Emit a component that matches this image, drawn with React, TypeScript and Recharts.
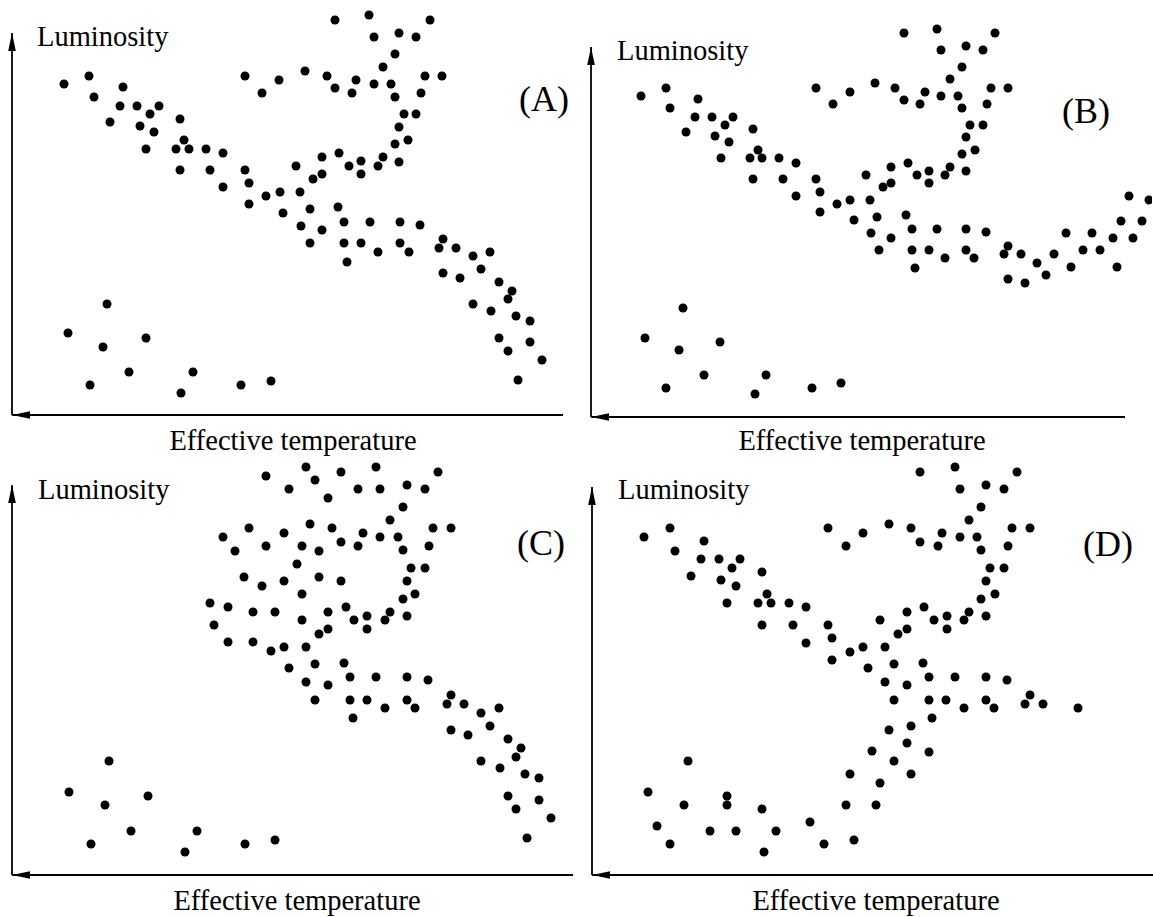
import React from 'react';
import { ScatterChart, Scatter, XAxis, YAxis, ReferenceLine } from 'recharts';

// Each point: [position along temperature axis, luminosity], in units measured from the axis corner.
const panelAPoints: [number, number][] = [
  [52, 331], [77, 339], [82, 318], [111, 328], [108, 309], [125, 309], [147, 309], [138, 301],
  [98, 293], [128, 289], [142, 283], [168, 296], [172, 275], [134, 266], [164, 266], [177, 266],
  [194, 266], [211, 262], [168, 245], [198, 245], [233, 245], [237, 232], [211, 228], [254, 219],
  [268, 223], [288, 223], [237, 211], [271, 202], [298, 206], [326, 208],
  [289, 189], [310, 185], [332, 193], [358, 193], [388, 193], [408, 190], [298, 172], [332, 172],
  [349, 172], [366, 163], [335, 153], [388, 172], [397, 163], [431, 176], [427, 167], [444, 167],
  [461, 159], [478, 163], [469, 146], [431, 142], [448, 137], [487, 133], [500, 124], [496, 116],
  [461, 111], [479, 104], [504, 99], [518, 94], [487, 77], [518, 73], [496, 64], [530, 55], [506, 35],
  [233, 339], [250, 322], [267, 335], [293, 344], [315, 339], [344, 335], [323, 327], [340, 322],
  [362, 331], [379, 331], [383, 318], [409, 322], [413, 339], [430, 339], [323, 395], [357, 400],
  [418, 395], [362, 378], [387, 382], [404, 378], [383, 361], [371, 348], [392, 301], [404, 301],
  [387, 288], [383, 271], [396, 275], [387, 253], [371, 258], [366, 249], [349, 254], [349, 241],
  [337, 249], [327, 262], [310, 258], [310, 241], [301, 236], [284, 249],
  [56, 82], [95, 111], [91, 68], [134, 77], [78, 30], [117, 43], [169, 22], [181, 43], [229, 30], [259, 34],
];

const panelBPoints: [number, number][] = [
  [50, 321], [75, 329], [79, 309], [107, 318], [104, 300], [121, 300], [142, 300], [134, 292],
  [95, 285], [124, 281], [138, 275], [162, 288], [167, 267], [130, 259], [159, 259], [171, 259],
  [188, 259], [205, 254], [162, 238], [192, 238], [225, 238], [229, 225], [205, 221], [246, 213],
  [259, 217], [279, 217], [229, 205], [263, 197], [286, 200], [315, 202],
  [280, 184], [300, 179], [321, 188], [346, 188], [375, 188], [395, 185], [288, 167], [321, 167],
  [338, 167], [354, 159], [324, 149], [375, 167], [383, 159], [417, 171], [413, 163], [430, 163],
  [417, 138], [434, 134], [446, 154], [455, 142], [463, 163], [475, 184], [480, 150], [492, 167],
  [501, 184], [509, 167], [522, 179], [526, 150], [530, 196], [542, 179], [551, 196], [538, 221], [558, 217],
  [225, 329], [242, 313], [259, 325], [284, 334], [304, 329], [334, 325], [313, 317], [329, 313],
  [350, 321], [367, 321], [371, 309], [396, 313], [400, 329], [417, 329], [313, 384], [346, 388],
  [404, 384], [350, 367], [375, 371], [392, 367], [371, 350], [359, 338], [379, 292], [392, 292],
  [375, 280], [371, 263], [384, 267], [375, 246], [359, 250], [354, 242], [338, 246], [338, 234],
  [326, 242], [317, 254], [300, 250], [300, 234], [292, 230], [275, 242],
  [54, 79], [92, 109], [88, 67], [129, 75], [75, 29], [113, 42], [164, 23], [175, 42], [221, 29], [250, 34],
];

const panelCPoints: [number, number][] = [
  [254, 399], [294, 408], [303, 395], [329, 403], [364, 408], [426, 403], [277, 386], [316, 377],
  [346, 386], [368, 386], [395, 390], [413, 386], [391, 368], [378, 355], [211, 338], [237, 347],
  [272, 342], [298, 351], [320, 347], [351, 342], [368, 338], [386, 338], [421, 347], [439, 347],
  [223, 324], [254, 329], [290, 329], [307, 324], [329, 333], [346, 329], [391, 325], [417, 329],
  [285, 311], [399, 307], [413, 307], [232, 298], [250, 289], [272, 294], [307, 298], [329, 294],
  [395, 294], [290, 281], [391, 276], [403, 281], [198, 272], [216, 268], [241, 263], [263, 263],
  [316, 263], [334, 268], [290, 255], [342, 255], [355, 259], [373, 255], [378, 263], [395, 259],
  [202, 250], [307, 241], [316, 246], [355, 246], [216, 233], [241, 233], [259, 224], [272, 228],
  [294, 228], [277, 207], [303, 211], [332, 212], [294, 193], [316, 190], [338, 198], [364, 198],
  [395, 198], [416, 195],
  [303, 175], [338, 175], [355, 175], [373, 167], [341, 157], [395, 175], [403, 167], [439, 180],
  [435, 171], [452, 171], [469, 162], [487, 167], [478, 149], [439, 145], [456, 140], [496, 136],
  [509, 127], [504, 118], [469, 114], [488, 107], [513, 101], [527, 97], [496, 79], [527, 75],
  [504, 66], [539, 57], [515, 37],
  [57, 83], [97, 114], [93, 70], [136, 79], [79, 31], [119, 44], [173, 23], [185, 44], [233, 31], [263, 35],
];

const panelDPoints: [number, number][] = [
  [328, 403], [363, 408], [425, 403], [368, 386], [394, 390], [412, 386], [389, 368], [377, 355],
  [52, 338], [78, 347], [83, 324], [112, 334], [109, 316], [127, 316], [148, 316], [140, 307],
  [99, 299], [129, 295], [144, 289], [170, 303], [175, 281], [135, 272], [166, 272], [179, 272],
  [197, 272], [214, 268], [170, 250], [201, 250], [236, 250], [240, 237], [214, 232], [258, 223],
  [271, 228], [293, 228], [240, 215], [276, 207], [302, 211], [331, 212], [293, 193], [315, 190],
  [337, 198], [363, 198], [394, 198], [415, 195],
  [236, 347], [254, 329], [271, 342], [297, 351], [319, 347], [328, 333], [346, 329], [350, 342],
  [368, 338], [385, 338], [389, 325], [416, 329], [420, 347], [438, 347], [398, 307], [412, 307],
  [394, 294], [389, 276], [403, 281], [394, 259], [377, 263], [372, 255], [355, 259], [355, 246],
  [342, 255], [332, 268], [315, 263], [288, 255], [315, 246], [306, 241],
  [302, 175], [337, 175], [354, 175], [372, 167], [394, 175], [402, 167], [438, 180], [433, 171],
  [451, 171], [486, 167], [340, 157], [319, 149], [297, 145], [315, 132], [337, 123], [280, 124],
  [302, 114], [319, 101], [258, 101], [288, 92], [254, 70], [284, 70], [218, 53], [262, 35], [232, 31],
  [56, 83], [96, 114], [92, 70], [135, 79], [135, 70], [170, 66], [65, 49], [118, 44], [144, 44],
  [184, 44], [78, 31], [172, 23],
];

const panelLabels = ['(A)', '(B)', '(C)', '(D)'];
const yAxisTitle = 'Luminosity';
const xAxisTitle = 'Effective temperature';

const X_MAX = 561;
const Y_MAX = 415;
const FONT = '"Liberation Serif", "Times New Roman", Times, serif';

const Dot = (props: any) => <circle cx={props.cx} cy={props.cy} r={4.5} fill="#000" />;

// axis line with an arrowhead; "end" puts the head at (x2,y2), otherwise at (x1,y1)
const arrowLine = (atEnd: boolean) => (props: any) => {
  const { x1, y1, x2, y2 } = props;
  const tx = atEnd ? x2 : x1;
  const ty = atEnd ? y2 : y1;
  const fx = atEnd ? x1 : x2;
  const fy = atEnd ? y1 : y2;
  const len = Math.hypot(tx - fx, ty - fy) || 1;
  const ux = (tx - fx) / len;
  const uy = (ty - fy) / len;
  const bx = tx - ux * 18;
  const by = ty - uy * 18;
  const w = 3.8;
  return (
    <g>
      <line x1={x1} y1={y1} x2={x2} y2={y2} stroke="#000" strokeWidth={1.8} />
      <polygon
        points={`${tx},${ty} ${bx - uy * w},${by + ux * w} ${bx + uy * w},${by - ux * w}`}
        fill="#000"
      />
    </g>
  );
};

interface PanelProps {
  points: [number, number][];
  label: string;
  left: number;
  top: number;
  width: number;
  height: number;
  originX: number; // corner of the axes, page pixels
  originY: number;
  xEnd: number; // axis length, data units
  yEnd: number;
  lumPos: [number, number];
  tagPos: [number, number];
  tempPos: [number, number];
}

const Panel: React.FC<PanelProps> = (p) => {
  const data = p.points.map(([x, y]) => ({ x, y }));
  const margin = {
    left: p.originX - p.left,
    top: p.originY - Y_MAX - p.top,
    right: p.left + p.width - (p.originX + X_MAX),
    bottom: p.top + p.height - p.originY,
  };
  const textStyle = { fontFamily: FONT };
  return (
    <div style={{ position: 'absolute', left: p.left, top: p.top }}>
      <ScatterChart width={p.width} height={p.height} margin={margin}>
        <XAxis type="number" dataKey="x" domain={[0, X_MAX]} allowDataOverflow hide />
        <YAxis type="number" dataKey="y" domain={[0, Y_MAX]} allowDataOverflow hide />
        <ReferenceLine
          segment={[{ x: 0, y: 0 }, { x: p.xEnd, y: 0 }]}
          ifOverflow="visible"
          shape={arrowLine(false)}
        />
        <ReferenceLine
          segment={[{ x: 0, y: 0 }, { x: 0, y: p.yEnd }]}
          ifOverflow="visible"
          shape={arrowLine(true)}
        />
        <Scatter data={data} shape={Dot} isAnimationActive={false} />
        <text x={p.lumPos[0]} y={p.lumPos[1]} style={{ ...textStyle, fontSize: 28.5 }} fill="#000">
          {yAxisTitle}
        </text>
        <text x={p.tagPos[0]} y={p.tagPos[1]} style={{ ...textStyle, fontSize: 36 }} fill="#000">
          {p.label}
        </text>
        <text
          x={p.tempPos[0]}
          y={p.tempPos[1]}
          style={{ ...textStyle, fontSize: 28.5 }}
          fill="#000"
          textAnchor="middle"
        >
          {xAxisTitle}
        </text>
      </ScatterChart>
    </div>
  );
};

export default function App() {
  return (
    <div style={{ position: 'absolute', left: 0, top: 0, width: 1153, height: 917, background: '#fff' }}>
      <Panel
        points={panelAPoints} label={panelLabels[0]}
        left={0} top={0} width={576} height={458}
        originX={12} originY={415} xEnd={551} yEnd={382}
        lumPos={[37, 46]} tagPos={[519, 111]} tempPos={[293, 450]}
      />
      <Panel
        points={panelBPoints} label={panelLabels[1]}
        left={576} top={0} width={577} height={458}
        originX={591} originY={417} xEnd={534} yEnd={370}
        lumPos={[41, 60]} tagPos={[486, 123]} tempPos={[286, 450]}
      />
      <Panel
        points={panelCPoints} label={panelLabels[2]}
        left={0} top={458} width={576} height={459}
        originX={12} originY={875} xEnd={561} yEnd={390}
        lumPos={[38, 41]} tagPos={[517, 97]} tempPos={[297, 452]}
      />
      <Panel
        points={panelDPoints} label={panelLabels[3]}
        left={576} top={458} width={577} height={459}
        originX={592} originY={875} xEnd={561} yEnd={388}
        lumPos={[42, 41]} tagPos={[507, 98]} tempPos={[300, 452]}
      />
    </div>
  );
}
